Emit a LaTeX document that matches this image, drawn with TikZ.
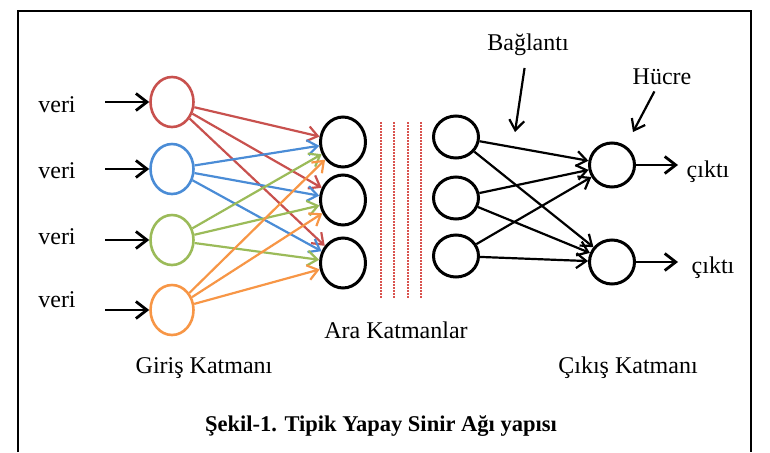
\documentclass[tikz,border=0pt]{standalone}
\usepackage{fontspec}
\setmainfont{Liberation Serif}
\usepackage{xcolor}
\usetikzlibrary{arrows.meta,shapes.geometric}

\definecolor{nred}{HTML}{C8514E}
\definecolor{nblue}{HTML}{4A8CD6}
\definecolor{ngreen}{HTML}{9BBB59}
\definecolor{norange}{HTML}{F79646}
\definecolor{sepred}{HTML}{D9534F}

\begin{document}
\begin{tikzpicture}[
    x=1pt, y=-1pt,
    inn/.style={ellipse, draw=#1, line width=2.6pt, minimum width=43pt, minimum height=50pt, inner sep=0pt},
    hid/.style={ellipse, draw=black, line width=3pt, minimum width=45pt, minimum height=50pt, inner sep=0pt},
    hidb/.style={ellipse, draw=black, line width=3pt, minimum width=45pt, minimum height=42pt, inner sep=0pt},
    outn/.style={ellipse, draw=black, line width=3pt, minimum width=45pt, minimum height=44pt, inner sep=0pt},
    lbl/.style={font=\fontsize{24}{28}\selectfont, inner sep=0pt},
    captxt/.style={font=\bfseries\fontsize{22.5}{26}\selectfont, inner sep=0pt},
    arr/.style={-{Straight Barb[length=10pt,width=15pt]}, line width=2.2pt, draw=#1},
    arr/.default=black,
    bigarr/.style={-{Straight Barb[length=11pt,width=17pt]}, line width=2.8pt, draw=black},
    sepline/.style={draw=sepred, line width=1.2pt, dash pattern=on 2pt off 1pt}
]
    \useasboundingbox (0,0) rectangle (770,452);

    % frame
    \draw[line width=1.8pt] (18,452) -- (18,11) -- (751,11) -- (751,452);

    % input layer
    \node[inn=nred]    (i1) at (172,102) {};
    \node[inn=nblue]   (i2) at (172,169) {};
    \node[inn=ngreen]  (i3) at (172,240) {};
    \node[inn=norange] (i4) at (172,310) {};

    % hidden layers
    \node[hid] (h1) at (343,142) {};
    \node[hid] (h2) at (343,200) {};
    \node[hid] (h3) at (343,263) {};

    \node[hidb] (b1) at (456,137) {};
    \node[hidb] (b2) at (456,198) {};
    \node[hidb] (b3) at (456,256) {};

    % output layer
    \node[outn] (o1) at (612,165) {};
    \node[outn] (o2) at (612,262) {};

    \foreach \x in {381,394,408,421}
        \draw[sepline] (\x,122) -- (\x,298);

    % labels
    \node[lbl] (v1) at (57,105) {veri};
    \node[lbl] (v2) at (57,171) {veri};
    \node[lbl] (v3) at (57,237) {veri};
    \node[lbl] (v4) at (57,300) {veri};
    \node[lbl] (c1) at (708,172) {çıktı};
    \node[lbl] (c2) at (713,268) {çıktı};
    \node[lbl] (bag) at (528,45) {Bağlantı};
    \node[lbl] (hucre) at (662,77) {Hücre};
    \node[lbl] (ara) at (396,330) {Ara Katmanlar};
    \node[lbl] (giris) at (204,368) {Giriş Katmanı};
    \node[lbl] (cikis) at (628,368) {Çıkış Katmanı};
    \node[captxt] (baslik) at (381,426) {Şekil-1. Tipik Yapay Sinir Ağı yapısı};

    % inputs
    \foreach \i in {1,...,4} {
        \coordinate (s\i) at ([xshift=-44pt]i\i.west);
        \draw[bigarr] (s\i) -- (i\i.west);
    }

    % input -> hidden
    \foreach \c/\i in {nred/1,nblue/2,ngreen/3,norange/4}
        \foreach \h in {1,2,3}
            \draw[arr=\c] (i\i) -- (h\h);

    % hidden -> output
    \foreach \b in {1,2,3}
        \foreach \o in {1,2}
            \draw[arr] (b\b) -- (o\o);

    % outputs
    \coordinate (e1) at ([xshift=42pt]o1.east);
    \coordinate (e2) at ([xshift=42pt]o2.east);
    \draw[bigarr] (o1) -- (e1);
    \draw[bigarr] (o2) -- (e2);

    % pointers
    \coordinate (bt) at (515,132);
    \coordinate (ht) at (633,132);
    \draw[arr, shorten <=12pt] (bag) -- (bt);
    \draw[arr, shorten <=7pt] (hucre) -- (ht);
\end{tikzpicture}
\end{document}
